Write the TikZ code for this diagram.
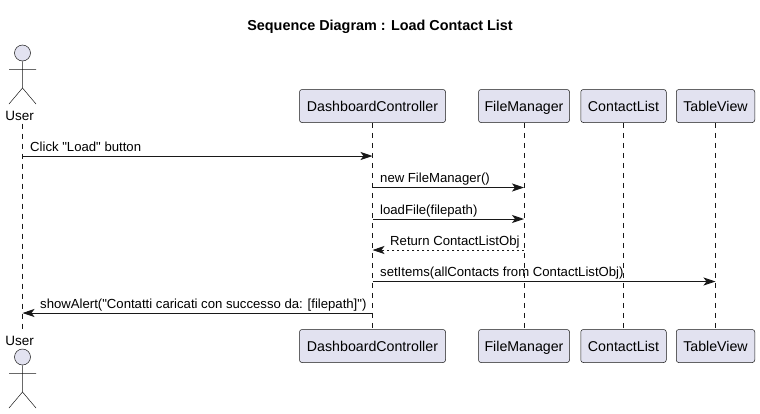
\documentclass[tikz,border=0pt]{standalone}
\usepackage{fontspec}
\setmainfont{Liberation Sans}
\newfontfamily\plainf{Liberation Sans}
\usetikzlibrary{arrows.meta}
\definecolor{pfill}{HTML}{E2E2F0}
\definecolor{pline}{HTML}{181818}
\tikzset{
  x=1pt,y=-1pt,
  part/.style={draw=pline,fill=pfill,line width=0.5pt,rounded corners=2.5pt,minimum height=33pt,inner sep=0pt,text height=10pt,text depth=0pt,anchor=center,font=\fontsize{14.2}{16}\selectfont},
  head/.style={circle,draw=pline,fill=pfill,line width=0.5pt,minimum size=16pt,inner sep=0pt},
  limb/.style={draw=pline,line width=0.5pt},
  lifeline/.style={draw=pline,line width=0.5pt,dash pattern=on 5pt off 5pt},
  msg/.style={draw=pline,line width=0.9pt,-{Stealth[length=12pt,width=8pt,inset=3pt]}},
  rmsg/.style={msg,dash pattern=on 2.5pt off 2.5pt},
  lab/.style={anchor=base west,inner sep=0pt,font=\plainf\fontsize{13.15}{15}\selectfont},
  ulab/.style={anchor=base,inner sep=0pt,font=\fontsize{13.5}{16}\selectfont},
}
\begin{document}
\begin{tikzpicture}
\useasboundingbox (0,0) rectangle (760,413);
\node[anchor=base,inner sep=0pt,font=\fontsize{14.4}{16}\selectfont\bfseries] (title) at (380,30) {Sequence Diagram : Load Contact List};
% participants
\node[part,minimum width=146pt] (dT) at (372.5,106) {DashboardController};
\node[part,minimum width=91pt] (fT) at (524,106) {FileManager};
\node[part,minimum width=85.5pt] (cT) at (623.5,106) {ContactList};
\node[part,minimum width=78.5pt] (tT) at (715.5,106) {TableView};
\node[part,minimum width=146pt] (dB) at (372.5,346) {DashboardController};
\node[part,minimum width=91pt] (fB) at (524,346) {FileManager};
\node[part,minimum width=85.5pt] (cB) at (623.5,346) {ContactList};
\node[part,minimum width=78.5pt] (tB) at (715.5,346) {TableView};
% actors
\node[ulab] (uT) at (19.7,120) {User};
\node[ulab] (uB) at (19.7,345) {User};
\node[head] (hT) at (22.5,53) {};
\node[head] (hB) at (22.5,357) {};
\path[limb] (hT.south) -- (22.5,88) -- (9,104) (22.5,88) -- (36,104) (9,69.5) -- (36,69.5);
\path[limb] (hB.south) -- (22.5,392) -- (9,408) (22.5,392) -- (36,408) (9,373.5) -- (36,373.5);
% lifelines
\path[lifeline] (22.5,123.5) -- (22.5,330);
\path[lifeline] (dT.south) -- (dB.north);
\path[lifeline] (fT.south) -- (fB.north);
\path[lifeline] (cT.south) -- (cB.north);
\path[lifeline] (tT.south) -- (tB.north);
% messages
\coordinate (ul) at (22.5,200);
\path[msg] (ul |- 0,156) -- (dT.south |- 0,156);
\node[lab] (m1) at (30,151) {Click "Load" button};
\path[msg] (dT.south |- 0,187.5) -- (fT.south |- 0,187.5);
\node[lab] (m2) at (380,182.5) {new FileManager()};
\path[msg] (dT.south |- 0,219) -- (fT.south |- 0,219);
\node[lab] (m3) at (380,214) {loadFile(filepath)};
\path[rmsg] (fT.south |- 0,250) -- (dT.south |- 0,250);
\node[lab] (m4) at (390,245) {Return ContactListObj};
\path[msg] (dT.south |- 0,281.5) -- (tT.south |- 0,281.5);
\node[lab] (m5) at (380,276.5) {setItems(allContacts from ContactListObj)};
\path[msg] (dT.south |- 0,313) -- (ul |- 0,313);
\node[lab] (m6) at (40,308) {showAlert("Contatti caricati con successo da: [filepath]")};
\end{tikzpicture}
\end{document}
